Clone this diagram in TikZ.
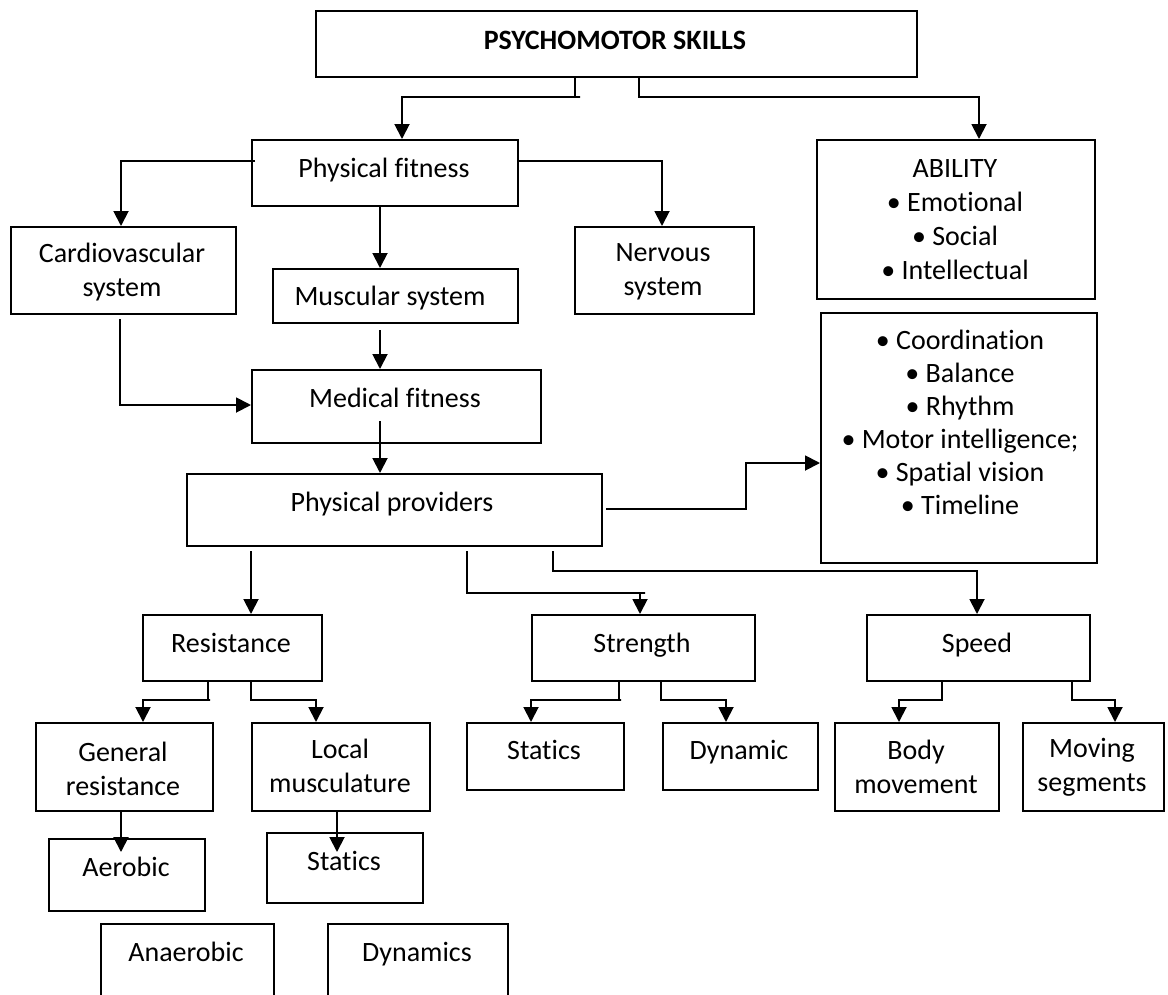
\documentclass[tikz,border=0pt]{standalone}
\usepackage{fontspec}
\setmainfont{Carlito}[Ligatures=NoCommon]
\usetikzlibrary{arrows.meta,calc}
\begin{document}
\begin{tikzpicture}[x=1pt,y=-1pt,
  box/.style={draw,line width=2.4pt,inner sep=0pt,anchor=north west},
  txt/.style={inner sep=0pt,align=center,font=\fontsize{28}{34}\selectfont},
  one/.style={txt,text height=20pt,text depth=6pt},
  conn/.style={line width=1.9pt,-{Triangle[length=15pt,width=15pt]}},
  plain/.style={line width=1.9pt}]
\fill[white] (0,0) rectangle (1168,994);
\clip (0,0) rectangle (1168,994);
% boxes
\node[box,minimum width=601pt,minimum height=66pt] (top) at (315,10) {};
\node[box,minimum width=266pt,minimum height=66pt] (pf) at (251,139) {};
\node[box,minimum width=278pt,minimum height=159pt] (ab) at (816,139) {};
\node[box,minimum width=225pt,minimum height=87pt] (cv) at (10,226) {};
\node[box,minimum width=245pt,minimum height=54pt] (ms) at (272,268) {};
\node[box,minimum width=179pt,minimum height=87pt] (nv) at (574,226) {};
\node[box,minimum width=276pt,minimum height=250pt] (co) at (820,312) {};
\node[box,minimum width=289pt,minimum height=73pt] (md) at (251,369) {};
\node[box,minimum width=415pt,minimum height=72pt] (pp) at (186,473) {};
\node[box,minimum width=179pt,minimum height=66pt] (rs) at (142,614) {};
\node[box,minimum width=223pt,minimum height=66pt] (st) at (531,614) {};
\node[box,minimum width=223pt,minimum height=66pt] (sp) at (866,614) {};
\node[box,minimum width=177pt,minimum height=88pt] (gr) at (35,722) {};
\node[box,minimum width=178pt,minimum height=88pt] (lm) at (251,722) {};
\node[box,minimum width=157pt,minimum height=67pt] (s2) at (466,722) {};
\node[box,minimum width=155pt,minimum height=67pt] (dy) at (662,722) {};
\node[box,minimum width=164pt,minimum height=88pt] (bm) at (834,722) {};
\node[box,minimum width=141pt,minimum height=88pt] (mv) at (1022,722) {};
\node[box,minimum width=156pt,minimum height=72pt] (ae) at (48,838) {};
\node[box,minimum width=156pt,minimum height=70pt] (s1) at (266,832) {};
\node[box,minimum width=173pt,minimum height=100pt] (an) at (100,923) {};
\node[box,minimum width=180pt,minimum height=100pt] (dm) at (327,923) {};
% texts
\node[one] (ttop) at (615,42) {\textbf{PSYCHOMOTOR SKILLS}};
\node[one] (tpf) at (384,170) {Physical fitness};
\node[txt] (tab) at (955,220) {ABILITY\\• Emotional\\• Social\\• Intellectual};
\node[txt] (tcv) at (122,272) {Cardiovascular\\system};
\node[one] (tms) at (390,298) {Muscular system};
\node[txt] (tnv) at (663,272) {Nervous\\system};
\node[txt,font=\fontsize{28}{33}\selectfont] (tco) at (960,422) {• Coordination\\• Balance\\• Rhythm\\• Motor intelligence;\\• Spatial vision\\• Timeline};
\node[one] (tmd) at (395,400) {Medical fitness};
\node[one] (tpp) at (392,504) {Physical providers};
\node[one] (trs) at (231,645) {Resistance};
\node[one] (tst) at (642,645) {Strength};
\node[one] (tsp) at (977,645) {Speed};
\node[txt] (tgr) at (123,769) {General\\resistance};
\node[txt] (tlm) at (340,766) {Local\\musculature};
\node[one] (ts2) at (544,752) {Statics};
\node[one] (tdy) at (739,752) {Dynamic};
\node[txt] (tbm) at (916,767) {Body\\movement};
\node[txt] (tmv) at (1092,767) {Moving\\segments};
\node[one] (tae) at (126,869) {Aerobic};
\node[one] (ts1) at (344,863) {Statics};
\node[one] (tan) at (186,954) {Anaerobic};
\node[one] (tdm) at (417,954) {Dynamics};
% connector joints
\coordinate (j1) at (575,97); \coordinate (j2) at (402,97);
\coordinate (j3) at (639,97); \coordinate (j4) at (979,97);
\coordinate (j5) at (121,161); \coordinate (j6) at (662,161);
\coordinate (j7) at (380,0); \coordinate (j8) at (120,405);
\coordinate (j9) at (746,509); \coordinate (j10) at (746,463);
\coordinate (j11) at (251,0);
\coordinate (j12) at (467,593); \coordinate (j13) at (640,593);
\coordinate (j14) at (553,571); \coordinate (j15) at (977,571);
\coordinate (k1) at (208,700); \coordinate (k2) at (143,700);
\coordinate (k3) at (251,700); \coordinate (k4) at (316,700);
\coordinate (k5) at (619,700); \coordinate (k6) at (531,700);
\coordinate (k7) at (661,700); \coordinate (k8) at (726,700);
\coordinate (k9) at (942,700); \coordinate (k10) at (899,700);
\coordinate (k11) at (1072,700); \coordinate (k12) at (1115,700);
\coordinate (k13) at (121,0); \coordinate (k14) at (337,0);
% connectors
\draw[conn] (j1 |- top.south) -- (j1) -- ++(5,0) -- (j2) -- (j2 |- pf.north);
\draw[conn] (j3 |- top.south) -- (j3) -- (j4) -- (j4 |- ab.north);
\draw[conn] ($(pf.west |- j5)+(4,0)$) -- (j5) -- (j5 |- cv.north);
\draw[conn] (pf.east |- j6) -- (j6) -- (j6 |- nv.north);
\draw[conn] (j7 |- pf.south) -- (j7 |- ms.north);
\draw[conn] ($(j7 |- ms.south)+(0,6)$) -- (j7 |- md.north);
\draw[conn] ($(j8 |- cv.south)+(0,4)$) -- (j8) -- (j8 -| md.west);
\draw[conn] ($(j7 |- md.south)+(0,-23)$) -- (j7 |- pp.north);
\draw[conn] ($(pp.east |- j9)+(3,0)$) -- (j9) -- (j10) -- (j10 -| co.west);
\draw[conn] ($(j11 |- pp.south)+(0,4)$) -- (j11 |- rs.north);
\draw[conn] ($(j12 |- pp.south)+(0,4)$) -- (j12) -- ++(178,0) -- (j13) -- (j13 |- st.north);
\draw[conn] ($(j14 |- pp.south)+(0,4)$) -- (j14) -- (j15) -- (j15 |- sp.north);
\draw[conn] (k1 |- rs.south) -- (k1) -- ++(2,0) -- (k2) -- (k2 |- gr.north);
\draw[conn] (k3 |- rs.south) -- (k3) -- (k4) -- (k4 |- lm.north);
\draw[conn] (k5 |- st.south) -- (k5) -- ++(2,0) -- (k6) -- (k6 |- s2.north);
\draw[conn] (k7 |- st.south) -- (k7) -- (k8) -- (k8 |- dy.north);
\draw[conn] (k9 |- sp.south) -- (k9) -- (k10) -- (k10 |- bm.north);
\draw[conn] (k11 |- sp.south) -- (k11) -- (k12) -- (k12 |- mv.north);
\draw[conn] (k13 |- gr.south) -- ($(k13 |- ae.north)+(0,14)$);
\draw[conn] (k14 |- lm.south) -- ($(k14 |- s1.north)+(0,20)$);
\end{tikzpicture}
\end{document}
